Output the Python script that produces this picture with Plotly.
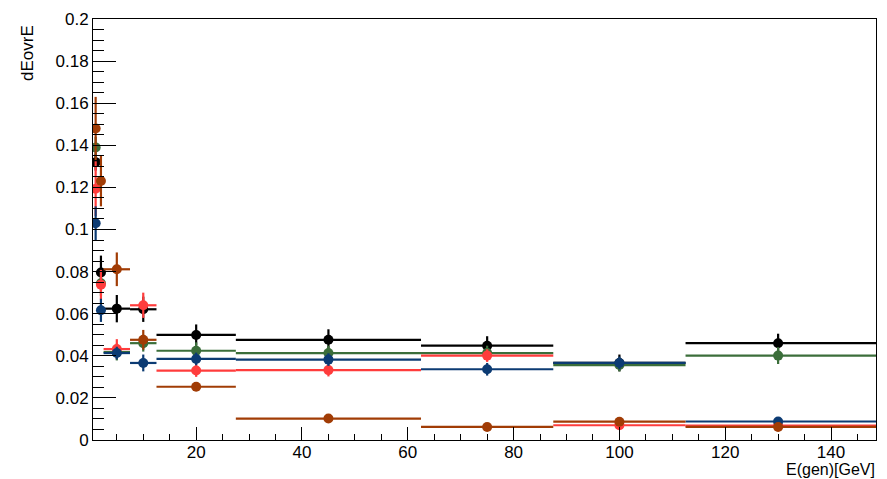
import plotly.graph_objects as go

x_centers = [1, 2, 5, 10, 20, 45, 75, 100, 130]
x_lo = [0.5, 1.5, 2.5, 7.5, 12.5, 27.5, 62.5, 87.5, 112.5]
x_hi = [1.5, 2.5, 7.5, 12.5, 27.5, 62.5, 87.5, 112.5, 148.5]

black = [0.132, 0.0796, 0.0624, 0.0621, 0.0499, 0.0476, 0.0448, 0.0366, 0.046]
black_err = [0.004, 0.008, 0.0065, 0.006, 0.005, 0.005, 0.0045, 0.004, 0.0045]
green = [0.139, 0.0745, 0.0418, 0.046, 0.0424, 0.0413, 0.0413, 0.0356, 0.0401]
green_err = [0.005, 0.006, 0.004, 0.004, 0.004, 0.0035, 0.0035, 0.003, 0.004]
red = [0.1194, 0.0738, 0.0432, 0.064, 0.0330, 0.0332, 0.0401, 0.0070, 0.0068]
red_err = [0.013, 0.007, 0.0047, 0.006, 0.003, 0.003, 0.003, 0.001, 0.001]
blue = [0.103, 0.0616, 0.0413, 0.0366, 0.0385, 0.0382, 0.0336, 0.0366, 0.0088]
blue_err = [0.008, 0.0055, 0.003, 0.004, 0.003, 0.003, 0.003, 0.003, 0.001]
brown = [0.148, 0.123, 0.0811, 0.0476, 0.0253, 0.0102, 0.0062, 0.0087, 0.0062]
brown_err = [0.015, 0.012, 0.008, 0.0047, 0.001, 0.001, 0.001, 0.001, 0.001]

y_ticks = [0, 0.02, 0.04, 0.06, 0.08, 0.1, 0.12, 0.14, 0.16, 0.18, 0.2]
y_ticktext = ["0", "0.02", "0.04", "0.06", "0.08", "0.1", "0.12", "0.14", "0.16", "0.18", "0.2"]
x_ticks = [20, 40, 60, 80, 100, 120, 140]

series = [
    (black, black_err, "#000000"),
    (green, green_err, "#3b6e3a"),
    (red, red_err, "#ff3c3c"),
    (blue, blue_err, "#0c3b73"),
    (brown, brown_err, "#a13c05"),
]

ex_plus = [h - c for c, h in zip(x_centers, x_hi)]
ex_minus = [c - l for c, l in zip(x_centers, x_lo)]

fig = go.Figure()
for vals, errs, col in series:
    fig.add_trace(go.Scatter(
        x=x_centers, y=vals, mode="markers",
        marker=dict(color=col, size=10),
        error_x=dict(type="data", symmetric=False, array=ex_plus, arrayminus=ex_minus,
                     color=col, thickness=2.2, width=0),
        error_y=dict(type="data", array=errs, color=col, thickness=2.2, width=0),
        showlegend=False,
    ))

font = dict(family="Liberation Sans, Arial, sans-serif", size=17, color="#000")
xfont = dict(family="Liberation Sans, Arial, sans-serif", size=16, color="#000")
W, H, L, R, T, B = 887, 479, 93, 10, 13, 39
pw, ph = W - L - R, H - T - B
fig.update_layout(
    width=W, height=H,
    margin=dict(l=L, r=R, t=T, b=B),
    paper_bgcolor="white", plot_bgcolor="white",
    font=font,
    xaxis=dict(range=[0.5, 148.5], tickvals=x_ticks, ticks="inside", ticklen=13,
               tickcolor="#000", showline=True, linecolor="#000", linewidth=1,
               mirror=True, showgrid=False, zeroline=False, ticklabelstandoff=-3,
               minor=dict(dtick=5, tick0=0, ticks="inside", ticklen=6, tickcolor="#000"),
               tickfont=font),
    yaxis=dict(range=[0, 0.2], tickvals=y_ticks, ticktext=y_ticktext, ticks="inside",
               ticklen=23, tickcolor="#000", showline=True, linecolor="#000", linewidth=1,
               mirror=True, showgrid=False, zeroline=False,
               minor=dict(dtick=0.005, tick0=0, ticks="inside", ticklen=11, tickcolor="#000"),
               tickfont=font),
    annotations=[
        dict(text="dEovrE", x=(28 - L) / pw, y=1 + (T - 17) / ph, xref="paper", yref="paper",
             showarrow=False, font=font, textangle=-90, xanchor="center", yanchor="top"),
        dict(text="E(gen)[GeV]", x=1, y=-(479 - (H - B)) / ph, xref="paper", yref="paper",
             showarrow=False, font=xfont, xanchor="right", yanchor="bottom", yshift=-1,
             borderpad=0),
    ],
)

fig.write_html("out.html")
